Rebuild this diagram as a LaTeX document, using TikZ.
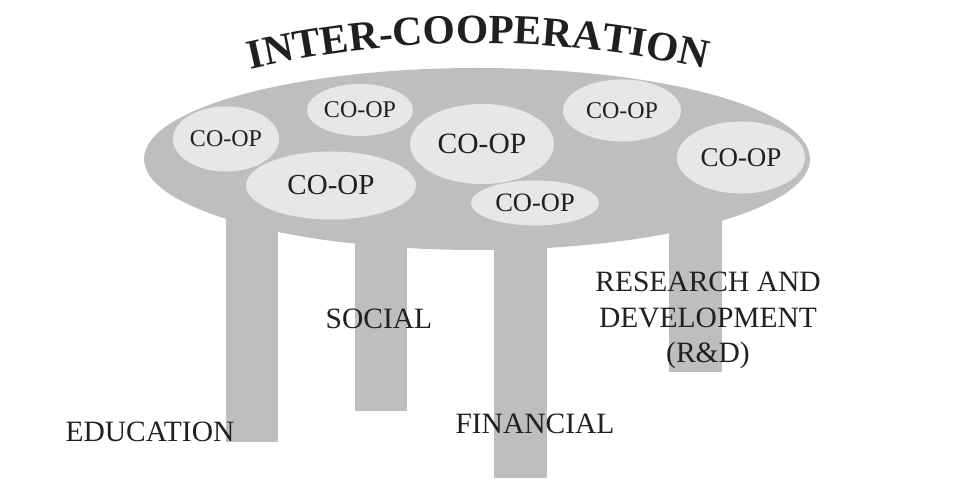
\documentclass[tikz,border=0pt]{standalone}
\usepackage{fontspec}
\setmainfont{Liberation Serif}
\usetikzlibrary{shapes.geometric,decorations.text}
\definecolor{tablegray}{RGB}{188,190,192}
\definecolor{coopgray}{RGB}{230,231,232}
\definecolor{ink}{RGB}{35,31,32}
\begin{document}
\begin{tikzpicture}[x=1pt,y=1pt,
  legbar/.style={rectangle, fill=tablegray, draw=none, inner sep=0pt, anchor=south},
  coop/.style={ellipse, fill=coopgray, draw=none, inner sep=0pt, text=ink},
  lbl/.style={text=ink, font=\fontsize{29.5}{35.5}\selectfont, inner sep=0pt, anchor=base, align=center}]
\useasboundingbox (0,0) rectangle (955,502);
% legs
\node[legbar, minimum width=52pt, minimum height=250pt] (edu) at (252,60) {};
\node[legbar, minimum width=52pt, minimum height=220pt] (soc) at (381,91) {};
\node[legbar, minimum width=53pt, minimum height=276pt] (fin) at (520.5,24) {};
\node[legbar, minimum width=53pt, minimum height=180pt] (rnd) at (695.5,130) {};
% table top
\node[ellipse, fill=tablegray, draw=none, inner sep=0pt, minimum width=666pt, minimum height=182pt] (table) at (477,343) {};
% co-ops
\node[coop, minimum width=106pt, minimum height=65pt, font=\fontsize{24}{28}\selectfont] (c1) at (226,363) {CO-OP};
\node[coop, minimum width=106pt, minimum height=52pt, font=\fontsize{24}{28}\selectfont] (c2) at (360,392) {CO-OP};
\node[coop, minimum width=144pt, minimum height=80pt, font=\fontsize{29.5}{34}\selectfont] (c3) at (482,358) {CO-OP};
\node[coop, minimum width=118pt, minimum height=62pt, font=\fontsize{24}{28}\selectfont] (c4) at (622,391.5) {CO-OP};
\node[coop, minimum width=128pt, minimum height=72pt, font=\fontsize{27}{32}\selectfont] (c5) at (741,344.5) {CO-OP};
\node[coop, minimum width=170pt, minimum height=68pt, font=\fontsize{29}{34}\selectfont] (c6) at (331,316.5) {CO-OP};
\node[coop, minimum width=128pt, minimum height=45pt, font=\fontsize{26.5}{31}\selectfont] (c7) at (535,299) {CO-OP};
% labels
\node[lbl] (ledu) at (150,60) {EDUCATION};
\node[lbl] (lsoc) at (379,173) {SOCIAL};
\node[lbl] (lfin) at (535,68) {FINANCIAL};
\node[lbl] (lrnd) at (708,139) {RESEARCH AND\\DEVELOPMENT\\(R\&D)};
% title
\path[decorate, decoration={text along path, text align=center,
  text={|\fontsize{41.5}{48}\bfseries\color{ink}|INTER-COOPERATION}}]
  (243.6,431) arc[start angle=103.5, end angle=76.5, radius=1004];
\end{tikzpicture}
\end{document}
